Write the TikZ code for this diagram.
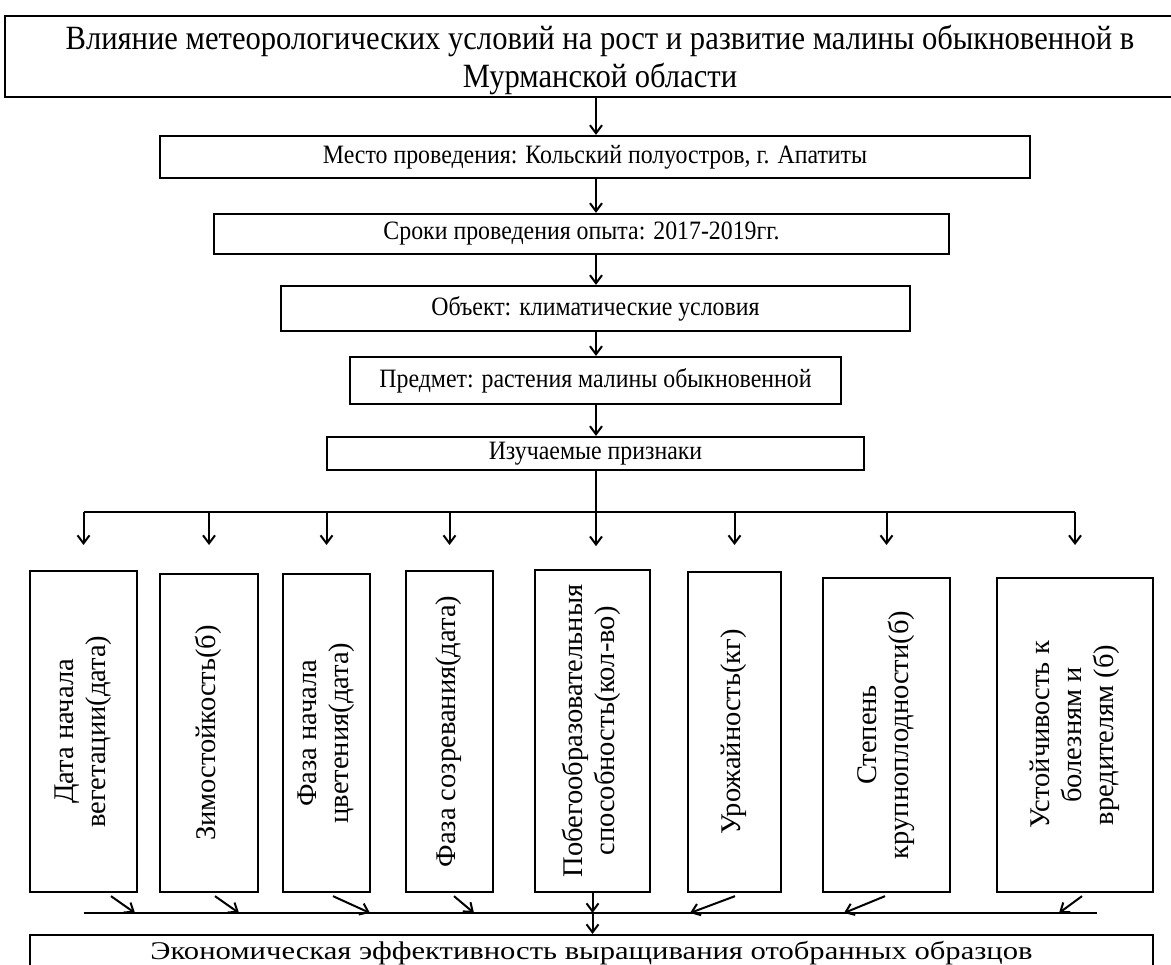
\documentclass[tikz,border=0pt]{standalone}
\usepackage{fontspec}
\setmainfont{Liberation Serif}
\newfontfamily\condserif{Liberation Serif}[FakeStretch=0.9]
\newfontfamily\wideserif{Liberation Serif}[FakeStretch=1.2]
\usepackage{graphicx}
\usetikzlibrary{arrows.meta}

\newcommand\titlefont{\condserif\fontsize{34}{38}\selectfont}
\newcommand\stagefont{\condserif\fontsize{26.5}{30}\selectfont}
\newcommand\ecofont{\wideserif\fontsize{25.5}{30}\selectfont}
\newcommand\sidefont{\fontsize{28.5}{32}\selectfont}
\newcommand\vtext[1]{\rotatebox{90}{\sidefont\begin{tabular}{@{}c@{}}#1\end{tabular}}}

\begin{document}
\begin{tikzpicture}[x=1pt, y=-1pt,
		stage/.style={draw, line width=2.3pt, inner sep=0pt, font=\stagefont},
		trait/.style={draw, line width=2.3pt, inner sep=0pt},
		arr/.style={-{Straight Barb[length=8pt,width=12pt]}, line width=2pt},
		link/.style={line width=2pt}
		]
		\useasboundingbox (0,0) rectangle (1171,965);
		\coordinate (spine) at (596,0);
		\coordinate (bar) at (0,512);
		\coordinate (low) at (0,913);

		\node[stage, minimum width=1190, minimum height=81, font=\titlefont, align=center, text depth=0pt] (title) at (600,56.5)
			{Влияние метеорологических условий на рост и развитие малины обыкновенной в\\Мурманской области};
		\node[stage, minimum width=870, minimum height=42] (place) at (595,157) {Место проведения: Кольский полуостров, г. Апатиты};
		\node[stage, minimum width=735, minimum height=40] (dates) at (581.5,234) {Сроки проведения опыта: 2017-2019гг.};
		\node[stage, minimum width=629, minimum height=45] (object) at (595.5,308.5) {Объект: климатические условия};
		\node[stage, minimum width=491, minimum height=47] (subject) at (595.5,380.5) {Предмет: растения малины обыкновенной};
		\node[stage, minimum width=537, minimum height=33] (traits) at (595.5,453.5) {Изучаемые признаки};

		\draw[arr] (title.south -| spine) -- (place.north -| spine);
		\draw[arr] (place.south -| spine) -- (dates.north -| spine);
		\draw[arr] (dates.south -| spine) -- (object.north -| spine);
		\draw[arr] (object.south -| spine) -- (subject.north -| spine);
		\draw[arr] (subject.south -| spine) -- (traits.north -| spine);

		\foreach \n/\cx/\w/\t/\txt in {
			1/83.5/107/571/{Дата начала\\вегетации(дата)},
			2/209/98/574/{Зимостойкость(б)},
			3/326.5/87/574/{Фаза начала\\цветения(дата)},
			4/449.5/87/571/{Фаза созревания(дата)},
			5/592.5/115/570/{Побегообразовательныя\\способность(кол-во)},
			6/734.5/93/572/{Урожайность(кг)},
			7/886.5/127/578/{Степень\\крупноплодности(б)},
			8/1075/156/578/{Устойчивость к\\болезням и\\вредителям (б)}}
			\node[trait, minimum width=\w, minimum height=892-\t] (f\n) at (\cx,{(\t+892)/2}) {\vtext{\txt}};

		\draw[link] (f1.north |- bar) -- (f8.north |- bar);
		\draw[arr] (traits.south -| spine) -- ++(0,75);
		\foreach \n in {1,2,3,4,6,7,8}
			\draw[arr] (f\n.north |- bar) -- ++(0,33);

		\node[stage, font=\ecofont, minimum width=1123, anchor=north, inner ysep=3pt, text height=21pt, text depth=40pt] (eco) at (591.5,934)
			{Экономическая эффективность выращивания отобранных образцов};

		\draw[link] (f1.south |- low) -- ([xshift=22]f8.south |- low);
		\foreach \n/\a/\b in {1/27.5/51.5, 2/6/30, 3/6.5/43.5, 4/4.5/24.5, 6/0.5/-44.5, 7/-1.5/-42.5, 8/7/-16}
			\draw[arr] ([xshift=\a, yshift=-3]f\n.south) -- ([xshift=\b]f\n.south |- low);
		\draw[arr] (f5.south) -- (f5.south |- low);
		\draw[arr] (f5.south |- low) -- (f5.south |- eco.north);
	\end{tikzpicture}
\end{document}
